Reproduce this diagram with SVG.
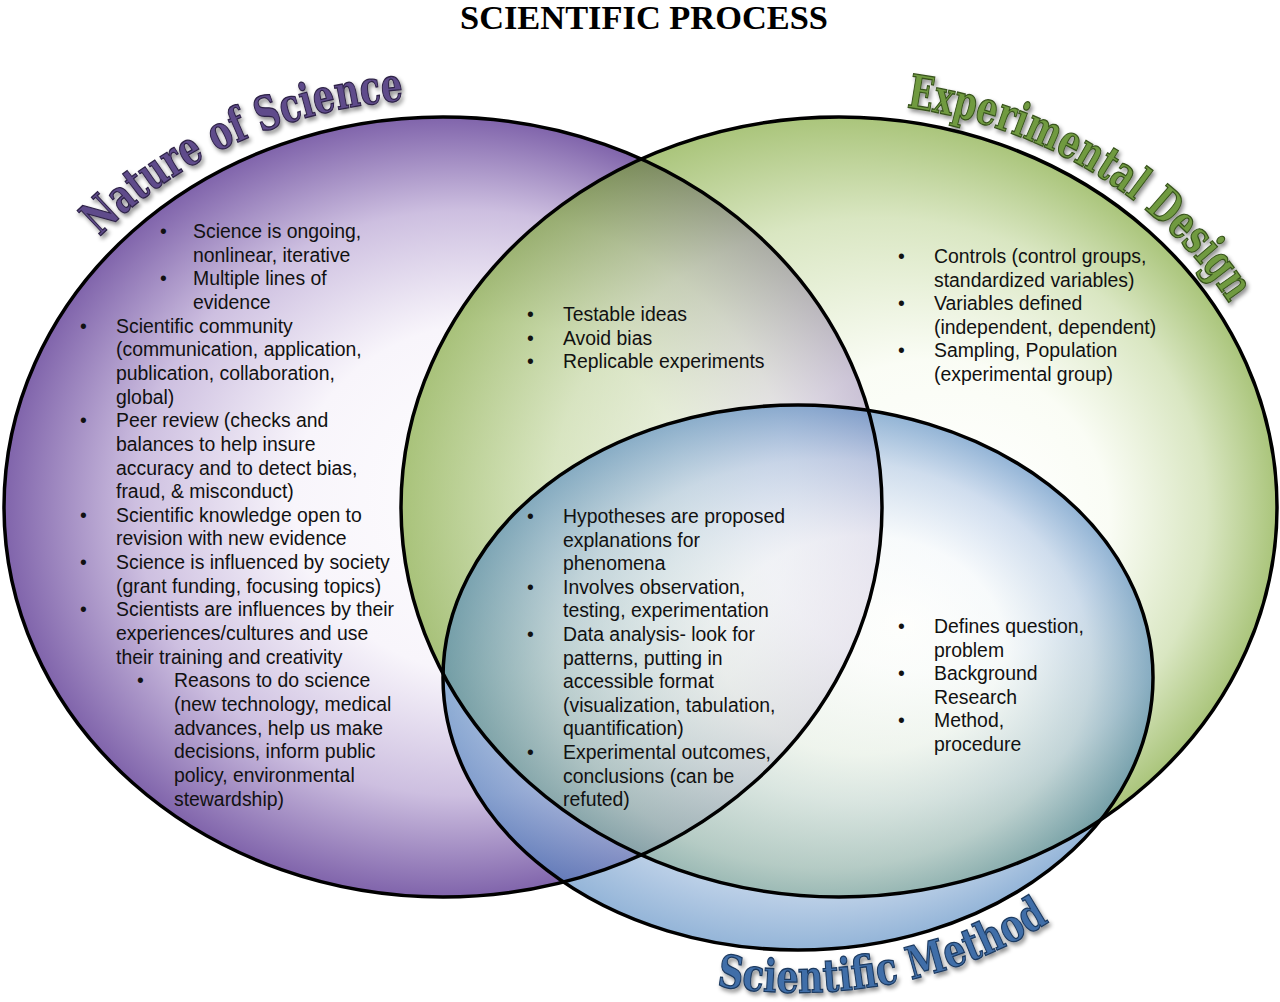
<svg xmlns="http://www.w3.org/2000/svg" width="1280" height="1002" viewBox="0 0 1280 1002">
<style>
.body{font-family:"Liberation Sans",Arial,sans-serif;font-size:19.4px;fill:#111}
.outline{fill:none;stroke:#000;stroke-width:3.5}
.lbl{font-family:"DejaVu Serif","Liberation Serif",serif;font-weight:bold;stroke-width:1.3;filter:url(#shadow)}
.layer{opacity:0.62}
</style>
<defs>
<radialGradient id="gPurple" cx="0.5" cy="0.5" r="0.5" fx="0.6" fy="0.48">
<stop offset="0" stop-color="#ffffff"/>
<stop offset="0.45" stop-color="#f8f5fb"/>
<stop offset="0.75" stop-color="#cdbfe0"/>
<stop offset="1" stop-color="#8064ab"/>
</radialGradient>
<radialGradient id="gGreen" cx="0.5" cy="0.5" r="0.5" fx="0.68" fy="0.52">
<stop offset="0" stop-color="#ffffff"/>
<stop offset="0.4" stop-color="#f7fbef"/>
<stop offset="0.75" stop-color="#c2d79c"/>
<stop offset="1" stop-color="#76a12a"/>
</radialGradient>
<radialGradient id="gBlue" cx="0.5" cy="0.5" r="0.5" fx="0.65" fy="0.4">
<stop offset="0" stop-color="#ffffff"/>
<stop offset="0.4" stop-color="#f4f8fc"/>
<stop offset="0.75" stop-color="#b3c9e5"/>
<stop offset="1" stop-color="#5287c0"/>
</radialGradient>
<filter id="shadow" x="-10%" y="-10%" width="120%" height="130%">
<feDropShadow dx="2" dy="3" stdDeviation="2" flood-color="#000" flood-opacity="0.45"/>
</filter>
<path id="arcNature" d="M 12.6 367.5 A 458 408 0 0 1 522.5 105.2"/>
<path id="arcExp" d="M 760.5 109.1 A 452 404 0 0 1 1284.1 436.8"/>
<path id="arcMethod" d="M 629.8 963 A 398 315 0 0 0 1172 785.2"/>
</defs>
<rect width="1280" height="1002" fill="#fff"/>
<text x="644" y="29" text-anchor="middle" font-family="'Liberation Serif',serif" font-weight="bold" font-size="34" textLength="368" lengthAdjust="spacingAndGlyphs" fill="#000">SCIENTIFIC PROCESS</text>
<g id="fills">
<ellipse id="fill-nature" cx="443" cy="507" rx="439" ry="390" fill="url(#gPurple)"/>
<ellipse id="fill-experimental" class="layer" cx="839" cy="507" rx="438" ry="390" fill="url(#gGreen)"/>
<ellipse id="fill-method" class="layer" cx="798" cy="677.5" rx="355" ry="272.5" fill="url(#gBlue)"/>
</g>
<g id="outlines">
<ellipse class="outline" cx="443" cy="507" rx="439" ry="390"/>
<ellipse class="outline" cx="839" cy="507" rx="438" ry="390"/>
<ellipse class="outline" cx="798" cy="677.5" rx="355" ry="272.5"/>
</g>
<g id="node-nature">
<text class="lbl" font-size="47" fill="#5f4b8b" stroke="#2e2347"><textPath href="#arcNature" startOffset="328" text-anchor="middle" textLength="340" lengthAdjust="spacingAndGlyphs">Nature of Science</textPath></text>
<text class="body">
<tspan x="160" y="238">•</tspan><tspan x="193" y="238">Science is ongoing,</tspan>
<tspan x="193" y="261.6">nonlinear, iterative</tspan>
<tspan x="160" y="285.3">•</tspan><tspan x="193" y="285.3">Multiple lines of</tspan>
<tspan x="193" y="308.9">evidence</tspan>
<tspan x="80" y="332.6">•</tspan><tspan x="116" y="332.6">Scientific community</tspan>
<tspan x="116" y="356.2">(communication, application,</tspan>
<tspan x="116" y="379.9">publication, collaboration,</tspan>
<tspan x="116" y="403.5">global)</tspan>
<tspan x="80" y="427.2">•</tspan><tspan x="116" y="427.2">Peer review (checks and</tspan>
<tspan x="116" y="450.8">balances to help insure</tspan>
<tspan x="116" y="474.5">accuracy and to detect bias,</tspan>
<tspan x="116" y="498.1">fraud, &amp; misconduct)</tspan>
<tspan x="80" y="521.8">•</tspan><tspan x="116" y="521.8">Scientific knowledge open to</tspan>
<tspan x="116" y="545.4">revision with new evidence</tspan>
<tspan x="80" y="569.1">•</tspan><tspan x="116" y="569.1">Science is influenced by society</tspan>
<tspan x="116" y="592.7">(grant funding, focusing topics)</tspan>
<tspan x="80" y="616.4">•</tspan><tspan x="116" y="616.4">Scientists are influences by their</tspan>
<tspan x="116" y="640">experiences/cultures and use</tspan>
<tspan x="116" y="663.7">their training and creativity</tspan>
<tspan x="137" y="687.3">•</tspan><tspan x="174" y="687.3">Reasons to do science</tspan>
<tspan x="174" y="711">(new technology, medical</tspan>
<tspan x="174" y="734.6">advances, help us make</tspan>
<tspan x="174" y="758.3">decisions, inform public</tspan>
<tspan x="174" y="781.9">policy, environmental</tspan>
<tspan x="174" y="805.6">stewardship)</tspan>
</text>
</g>
<g id="node-experimental">
<text class="lbl" font-size="47" fill="#6f9a3f" stroke="#37521c"><textPath href="#arcExp" startOffset="341" text-anchor="middle" textLength="389" lengthAdjust="spacingAndGlyphs">Experimental Design</textPath></text>
<text class="body">
<tspan x="898" y="263">•</tspan><tspan x="934" y="263">Controls (control groups,</tspan>
<tspan x="934" y="286.6">standardized variables)</tspan>
<tspan x="898" y="310.2">•</tspan><tspan x="934" y="310.2">Variables defined</tspan>
<tspan x="934" y="333.8">(independent, dependent)</tspan>
<tspan x="898" y="357.4">•</tspan><tspan x="934" y="357.4">Sampling, Population</tspan>
<tspan x="934" y="381">(experimental group)</tspan>
</text>
</g>
<g id="node-method">
<text class="lbl" font-size="45" fill="#3f6ea8" stroke="#1d3a60"><textPath href="#arcMethod" startOffset="263" text-anchor="middle" textLength="346" lengthAdjust="spacingAndGlyphs">Scientific Method</textPath></text>
<text class="body">
<tspan x="898" y="633">•</tspan><tspan x="934" y="633">Defines question,</tspan>
<tspan x="934" y="656.6">problem</tspan>
<tspan x="898" y="680.2">•</tspan><tspan x="934" y="680.2">Background</tspan>
<tspan x="934" y="703.8">Research</tspan>
<tspan x="898" y="727.4">•</tspan><tspan x="934" y="727.4">Method,</tspan>
<tspan x="934" y="751">procedure</tspan>
</text>
</g>
<g id="overlap-nature-experimental">
<text class="body">
<tspan x="527" y="321">•</tspan><tspan x="563" y="321">Testable ideas</tspan>
<tspan x="527" y="344.6">•</tspan><tspan x="563" y="344.6">Avoid bias</tspan>
<tspan x="527" y="368.2">•</tspan><tspan x="563" y="368.2">Replicable experiments</tspan>
</text>
</g>
<g id="overlap-all">
<text class="body">
<tspan x="527" y="523">•</tspan><tspan x="563" y="523">Hypotheses are proposed</tspan>
<tspan x="563" y="546.6">explanations for</tspan>
<tspan x="563" y="570.2">phenomena</tspan>
<tspan x="527" y="593.8">•</tspan><tspan x="563" y="593.8">Involves observation,</tspan>
<tspan x="563" y="617.4">testing, experimentation</tspan>
<tspan x="527" y="641">•</tspan><tspan x="563" y="641">Data analysis- look for</tspan>
<tspan x="563" y="664.6">patterns, putting in</tspan>
<tspan x="563" y="688.2">accessible format</tspan>
<tspan x="563" y="711.8">(visualization, tabulation,</tspan>
<tspan x="563" y="735.4">quantification)</tspan>
<tspan x="527" y="759">•</tspan><tspan x="563" y="759">Experimental outcomes,</tspan>
<tspan x="563" y="782.6">conclusions (can be</tspan>
<tspan x="563" y="806.2">refuted)</tspan>
</text>
</g>
</svg>
